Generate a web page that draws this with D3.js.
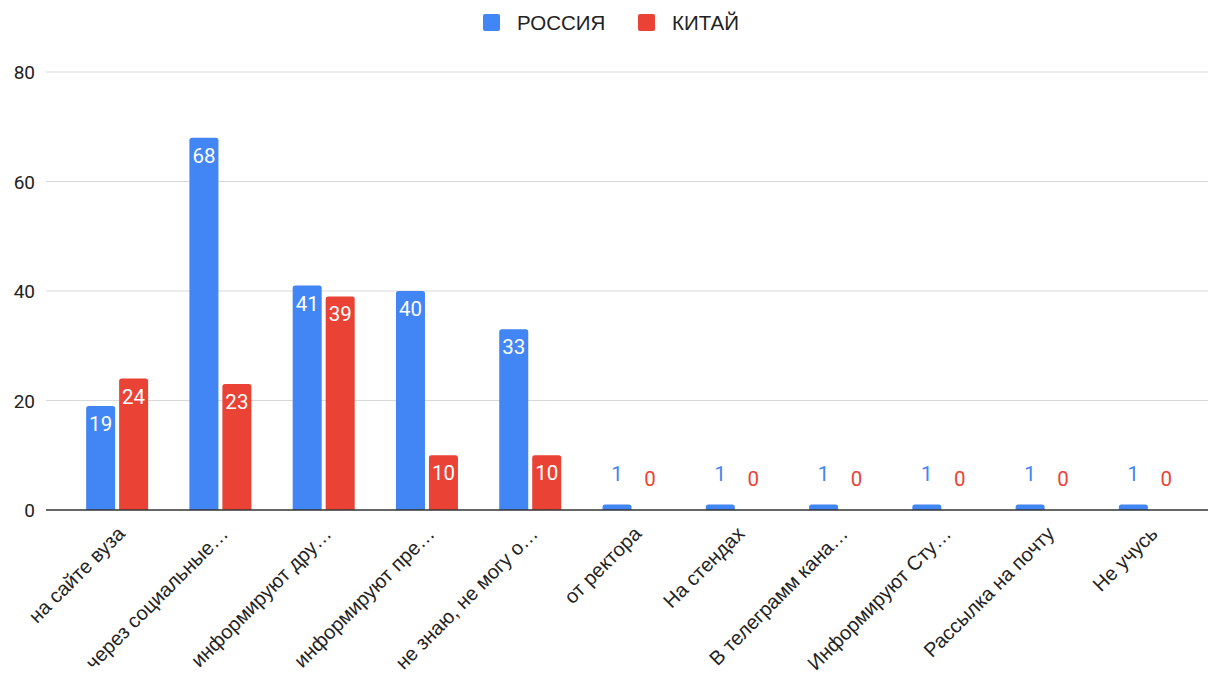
<!DOCTYPE html>
<html>
<head>
<meta charset="utf-8">
<script src="https://cdn.jsdelivr.net/npm/d3@7"></script>
<style>
  body { margin: 0; background: #fff; }
</style>
</head>
<body>
<div id="chart"></div>
<script>
// data
const categories = ["на сайте вуза", "через социальные…", "информируют дру…", "информируют пре…",
  "не знаю, не могу о…", "от ректора", "На стендах", "В телеграмм кана…",
  "Информируют Сту…", "Рассылка на почту", "Не учусь"];
const seriesNames = ["РОССИЯ", "КИТАЙ"];
const russia = [19, 68, 41, 40, 33, 1, 1, 1, 1, 1, 1];
const china = [24, 23, 39, 10, 10, 0, 0, 0, 0, 0, 0];
const yTicks = [0, 20, 40, 60, 80];

const colors = ["#4285F4", "#EA4335"];
const W = 1224, H = 677;

const svg = d3.select("#chart").append("svg")
  .attr("width", W).attr("height", H);

const y = d3.scaleLinear().domain([0, 80]).range([510, 72]);
const x0 = d3.scaleBand().domain(categories).range([65.5, 1201.5]);
const x1 = d3.scaleBand().domain(seriesNames).range([0, 62]).paddingInner(0.12);
const groupOffset = (x0.bandwidth() - 62) / 2;

// gridlines
svg.append("g").selectAll("line")
  .data(yTicks.filter(d => d !== 0))
  .join("line")
    .attr("x1", 46).attr("x2", 1208)
    .attr("y1", d => y(d)).attr("y2", d => y(d))
    .attr("stroke", "#d9d9d9").attr("stroke-width", 1);

// y tick labels
svg.append("g").selectAll("text")
  .data(yTicks)
  .join("text")
    .attr("x", 35).attr("y", d => y(d) + 7)
    .attr("text-anchor", "end")
    .style("font-family", "Roboto, sans-serif")
    .style("font-size", "19px")
    .attr("fill", "#222")
    .text(d => d);

// bars
const rows = categories.map((c, i) => ({cat: c, vals: [russia[i], china[i]]}));
const groups = svg.append("g").selectAll("g")
  .data(rows)
  .join("g")
    .attr("transform", d => `translate(${x0(d.cat) + groupOffset},0)`);

const cells = groups.selectAll("g")
  .data(d => d.vals.map((v, k) => ({name: seriesNames[k], v: v, k: k})))
  .join("g");

function barPath(d) {
  const bx = x1(d.name), bw = x1.bandwidth();
  const top = y(d.v), base = y(0);
  const h = base - top;
  if (h <= 0) return "";
  const r = Math.min(2.5, h);
  return `M${bx},${base}V${top + r}Q${bx},${top} ${bx + r},${top}H${bx + bw - r}Q${bx + bw},${top} ${bx + bw},${top + r}V${base}Z`;
}

cells.append("path")
  .attr("d", barPath)
  .attr("fill", d => colors[d.k]);

cells.append("text")
  .attr("x", d => x1(d.name) + x1.bandwidth() / 2)
  .attr("y", d => d.v >= 5 ? y(d.v) + 25 : y(d.v) - 24)
  .attr("text-anchor", "middle")
  .style("font-family", "Roboto, sans-serif")
  .style("font-size", "20.5px")
  .attr("fill", d => d.v >= 5 ? "#fff" : colors[d.k])
  .text(d => d.v);

// baseline
svg.append("line")
  .attr("x1", 46).attr("x2", 1208)
  .attr("y1", y(0)).attr("y2", y(0))
  .attr("stroke", "#333").attr("stroke-width", 1.5);

// x labels, rotated
svg.append("g").selectAll("text")
  .data(categories)
  .join("text")
    .attr("transform", d => `translate(${x0(d) + x0.bandwidth() / 2 + 9},535) rotate(-45)`)
    .attr("text-anchor", "end")
    .style("font-family", "'Liberation Sans', Arial, sans-serif")
    .style("font-size", "20px")
    .attr("fill", "#222")
    .text(d => d);

// legend
const legendX = [483, 638];
const legend = svg.append("g").selectAll("g")
  .data(seriesNames)
  .join("g")
    .attr("transform", (d, i) => `translate(${legendX[i]},14)`);
legend.append("rect")
  .attr("width", 17).attr("height", 17).attr("rx", 2)
  .attr("fill", (d, i) => colors[i]);
legend.append("text")
  .attr("x", 34).attr("y", 16)
  .style("font-family", "'Liberation Sans', Arial, sans-serif")
  .style("font-size", "20.5px")
  .attr("fill", "#222")
  .text(d => d);
</script>
</body>
</html>
